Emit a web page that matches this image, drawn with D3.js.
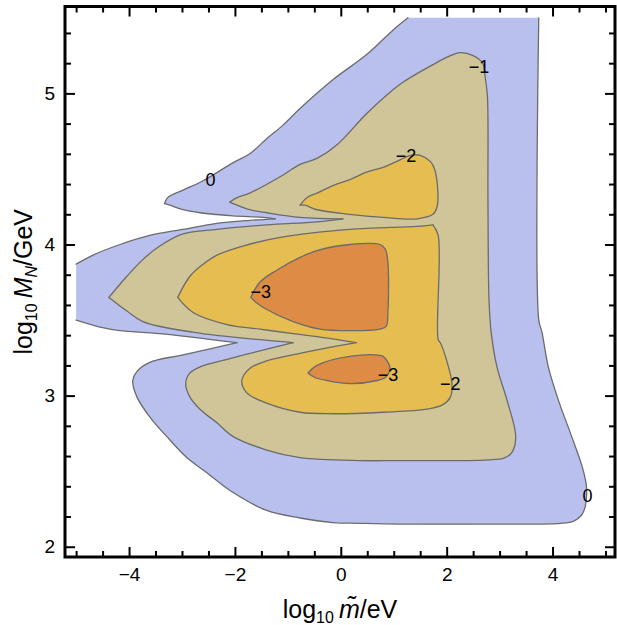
<!DOCTYPE html>
<html>
<head>
<meta charset="utf-8">
<script src="https://cdn.jsdelivr.net/npm/d3@7"></script>
<style>
  html, body { margin: 0; padding: 0; background: #fff; }
  svg { display: block; font-family: "Liberation Sans", Arial, Helvetica, sans-serif; }
</style>
</head>
<body>
<svg id="chart" width="617" height="625"></svg>
<script>
// Filled contours of log10 of the quantity over (log10 m~/eV, log10 M_N/GeV).
// Each band is a closed ring of [x, y] points in data coordinates.

// sampled domain of the field (edges that are not contour lines)
const fieldXMin = -5.0;
const fieldYMax = 5.5;

// plot window
const xView = [-5.21, 5.18];
const yView = [1.932, 5.575];

// tick values
const xTicks = [-4, -2, 0, 2, 4];
const xMinorTicks = d3.range(-10, 11).map(k => k / 2).filter(v => !xTicks.includes(v));
const yTicks = [2, 3, 4, 5];
const yMinorTicks = d3.range(10, 28).map(k => k / 5).filter(v => !yTicks.includes(Math.round(v * 1000) / 1000));

// level 0 band
const band0 = [
  [3.74, 5.50], [3.74, 3.50], [3.80, 3.42], [3.92, 3.19], [4.11, 2.97], [4.34, 2.75],
  [4.56, 2.53], [4.64, 2.40], [4.62, 2.27], [4.55, 2.21], [4.40, 2.17], [4.15, 2.155],
  [3.01, 2.15], [1.12, 2.15], [0.36, 2.155], [-0.15, 2.16], [-0.77, 2.19], [-1.40, 2.24],
  [-2.04, 2.36], [-2.53, 2.49], [-2.91, 2.59], [-3.29, 2.73], [-3.61, 2.86], [-3.85, 2.99],
  [-3.93, 3.10], [-3.85, 3.16], [-3.61, 3.22], [-2.98, 3.27], [-1.96, 3.35], [-3.42, 3.41],
  [-4.17, 3.43], [-4.50, 3.45], [-5.00, 3.50], [-5.00, 3.87],
  [-4.68, 3.93], [-4.17, 4.00], [-3.61, 4.06], [-2.98, 4.10], [-2.34, 4.14], [-1.72, 4.16],
  [-1.24, 4.17], [-1.47, 4.18], [-2.04, 4.19], [-2.66, 4.21], [-2.98, 4.23], [-3.23, 4.26],
  [-3.33, 4.27], [-3.27, 4.31], [-2.98, 4.36], [-2.61, 4.42], [-2.04, 4.54], [-1.72, 4.60],
  [-1.40, 4.70], [-1.09, 4.79], [-0.77, 4.90], [-0.15, 5.09], [0.50, 5.26], [0.99, 5.42],
  [1.27, 5.50]
];

// level -1 band
const band1 = [
  [-2.10, 4.28], [-1.96, 4.31], [-1.72, 4.34], [-1.09, 4.46], [-0.77, 4.53], [-0.45, 4.57],
  [-0.07, 4.66], [0.50, 4.87], [1.12, 5.06], [1.74, 5.19], [2.01, 5.24], [2.25, 5.27],
  [2.50, 5.25], [2.68, 5.20], [2.73, 5.10], [2.77, 4.98], [2.78, 4.30], [2.80, 3.63],
  [2.84, 3.42], [2.95, 3.19], [3.14, 2.97], [3.30, 2.75], [3.28, 2.66], [3.20, 2.61],
  [3.07, 2.585], [2.80, 2.575], [2.39, 2.57], [1.12, 2.57], [0.36, 2.57], [-0.77, 2.59],
  [-1.40, 2.64], [-2.04, 2.73], [-2.34, 2.82], [-2.66, 2.91], [-2.85, 2.99], [-2.93, 3.08],
  [-2.85, 3.15], [-2.66, 3.19], [-2.04, 3.25], [-0.90, 3.35], [-2.80, 3.42], [-3.74, 3.49],
  [-4.04, 3.56], [-4.38, 3.65], [-4.04, 3.79], [-3.74, 3.90], [-3.42, 3.99], [-2.98, 4.07],
  [-2.34, 4.10], [-1.40, 4.13], [-0.45, 4.15], [0.04, 4.17], [-0.77, 4.18], [-1.40, 4.21],
  [-1.72, 4.23], [-1.96, 4.26]
];

// level -2 band, upper island
const band2Upper = [
  [-0.77, 4.26], [-0.64, 4.31], [-0.45, 4.34], [-0.15, 4.39], [0.17, 4.43], [0.50, 4.48],
  [0.80, 4.51], [1.12, 4.56], [1.31, 4.59], [1.50, 4.59], [1.69, 4.55], [1.76, 4.51],
  [1.82, 4.41], [1.82, 4.25], [1.74, 4.20], [1.44, 4.17], [0.80, 4.18], [0.17, 4.20],
  [-0.45, 4.23], [-0.68, 4.26]
];

// level -2 band, main island
const band2Main = [
  [-3.08, 3.65], [-2.85, 3.79], [-2.60, 3.87], [-2.34, 3.93], [-1.85, 3.99], [-1.09, 4.05],
  [0.17, 4.10], [1.44, 4.12], [1.74, 4.13], [1.84, 4.06], [1.84, 3.37], [1.88, 3.35],
  [2.01, 3.22], [2.10, 3.08], [2.07, 2.99], [1.93, 2.94], [1.63, 2.91], [0.80, 2.89],
  [-0.15, 2.88], [-0.77, 2.89], [-1.40, 2.95], [-1.78, 3.02], [-1.87, 3.10], [-1.72, 3.18],
  [-1.40, 3.23], [-0.77, 3.28], [0.29, 3.35], [-0.45, 3.39], [-0.90, 3.41], [-1.53, 3.44],
  [-2.15, 3.47], [-2.79, 3.55]
];

// level -3 band, two islands
const band3Upper = [
  [-1.70, 3.65], [-1.53, 3.75], [-1.21, 3.83], [-0.80, 3.91], [-0.45, 3.96], [0.17, 4.00],
  [0.74, 4.00], [0.84, 3.97], [0.89, 3.88], [0.89, 3.55], [0.86, 3.46], [0.74, 3.44],
  [0.17, 3.43], [-0.39, 3.44], [-0.90, 3.49], [-1.40, 3.57], [-1.61, 3.62]
];
const band3Lower = [
  [-0.62, 3.15], [-0.45, 3.20], [0.17, 3.26], [0.80, 3.26], [0.89, 3.22], [0.93, 3.18],
  [0.84, 3.12], [0.69, 3.10], [0.17, 3.08], [-0.26, 3.10], [-0.49, 3.12]
];

// contour labels
const labelText = ["0", "\u22121", "\u22122", "\u22123", "\u22123", "\u22122", "0"];
const labelX = [-2.46, 2.61, 1.23, -1.51, 0.89, 2.07, 4.66];
const labelY = [4.43, 5.18, 4.59, 3.69, 3.14, 3.08, 2.34];

// ---------------------------------------------------------------------------
const svg = d3.select("#chart");
const frame = { left: 65, right: 615, top: 6.5, bottom: 557 };

const x = d3.scaleLinear().domain(xView).range([frame.left, frame.right]);
const y = d3.scaleLinear().domain(yView).range([frame.bottom, frame.top]);

const bands = [
  { rings: [band0], fill: "#bac0ee" },
  { rings: [band1], fill: "#cfc598" },
  { rings: [band2Upper, band2Main], fill: "#e6bd50" },
  { rings: [band3Upper, band3Lower], fill: "#dd8b45" }
];

const smooth = d3.line().curve(d3.curveCatmullRom.alpha(0.5));
const smoothClosed = d3.line().curve(d3.curveCatmullRomClosed.alpha(0.5));

// Smooth a ring between its corners (sharp turns and field-edge ends);
// returns the fill outline and the stroked contour pieces.
function ringGeometry(ring) {
  const n = ring.length;
  const px = ring.map(d => [x(d[0]), y(d[1])]);
  const edgeSeg = (a, b) =>
    (a[0] === b[0] && a[0] === fieldXMin) || (a[1] === b[1] && a[1] === fieldYMax);
  const corner = ring.map((d, i) => {
    const ip = (i - 1 + n) % n, inx = (i + 1) % n;
    if (edgeSeg(ring[ip], d) || edgeSeg(d, ring[inx])) return true;
    const a = px[ip], b = px[i], c = px[inx];
    const v1 = [b[0] - a[0], b[1] - a[1]], v2 = [c[0] - b[0], c[1] - b[1]];
    const cos = (v1[0] * v2[0] + v1[1] * v2[1]) / (Math.hypot(v1[0], v1[1]) * Math.hypot(v2[0], v2[1]));
    return cos < Math.cos(65 * Math.PI / 180);
  });
  const idx = d3.range(n).filter(i => corner[i]);
  if (!idx.length) {
    const p = smoothClosed(px);
    return { fill: p, strokes: [p] };
  }
  const segs = [];
  for (let k = 0; k < idx.length; k++) {
    const s = idx[k], e = idx[(k + 1) % idx.length];
    const pts = [px[s]];
    let i = s;
    do { i = (i + 1) % n; pts.push(px[i]); } while (i !== e);
    segs.push({ pts, edge: pts.length === 2 && edgeSeg(ring[s], ring[e]) });
  }
  const fill = segs.map((s, k) => {
    const d = smooth(s.pts);
    return k ? d.replace(/^M/, "L") : d;
  }).join("") + "Z";
  const strokes = segs.filter(s => !s.edge).map(s => smooth(s.pts));
  return { fill, strokes };
}

const plot = svg.append("g");
bands.forEach(b => {
  b.rings.forEach(r => {
    const g = ringGeometry(r);
    plot.append("path")
      .attr("d", g.fill)
      .attr("fill", b.fill)
      .attr("stroke", "none");
    g.strokes.forEach(s => {
      plot.append("path")
        .attr("d", s)
        .attr("fill", "none")
        .attr("stroke", "#6b6b6b")
        .attr("stroke-width", 1.3)
        .attr("stroke-linejoin", "round")
        .attr("stroke-linecap", "round");
    });
  });
});

// contour labels
plot.selectAll("text.clabel")
  .data(labelText)
  .join("text")
  .attr("class", "clabel")
  .attr("x", (d, i) => x(labelX[i]))
  .attr("y", (d, i) => y(labelY[i]))
  .attr("dy", "0.36em")
  .attr("text-anchor", "middle")
  .attr("font-size", 18)
  .attr("fill", "#000")
  .text(d => d);

// axes: ticks point inwards on all four sides
function styleAxis(g) {
  g.select(".domain").remove();
  g.selectAll(".tick line").attr("stroke", "#000").attr("stroke-width", 2);
  g.selectAll(".tick text").attr("font-size", 19).attr("fill", "#000")
    .attr("font-family", "Liberation Sans, Arial, sans-serif");
}
const fmt = d3.format("d");

svg.append("g").attr("transform", `translate(0,${frame.bottom})`)
  .call(d3.axisBottom(x).tickValues(xTicks).tickSize(-10).tickPadding(11).tickFormat(fmt)).call(styleAxis);
svg.append("g").attr("transform", `translate(0,${frame.bottom})`)
  .call(d3.axisBottom(x).tickValues(xMinorTicks).tickSize(-6).tickFormat("")).call(styleAxis);
svg.append("g").attr("transform", `translate(0,${frame.top})`)
  .call(d3.axisTop(x).tickValues(xTicks).tickSize(-10).tickFormat("")).call(styleAxis);
svg.append("g").attr("transform", `translate(0,${frame.top})`)
  .call(d3.axisTop(x).tickValues(xMinorTicks).tickSize(-6).tickFormat("")).call(styleAxis);

svg.append("g").attr("transform", `translate(${frame.left},0)`)
  .call(d3.axisLeft(y).tickValues(yTicks).tickSize(-10).tickPadding(10).tickFormat(fmt)).call(styleAxis);
svg.append("g").attr("transform", `translate(${frame.left},0)`)
  .call(d3.axisLeft(y).tickValues(yMinorTicks).tickSize(-6).tickFormat("")).call(styleAxis);
svg.append("g").attr("transform", `translate(${frame.right},0)`)
  .call(d3.axisRight(y).tickValues(yTicks).tickSize(-10).tickFormat("")).call(styleAxis);
svg.append("g").attr("transform", `translate(${frame.right},0)`)
  .call(d3.axisRight(y).tickValues(yMinorTicks).tickSize(-6).tickFormat("")).call(styleAxis);

// frame
svg.append("rect")
  .attr("x", frame.left).attr("y", frame.top)
  .attr("width", frame.right - frame.left).attr("height", frame.bottom - frame.top)
  .attr("fill", "none").attr("stroke", "#000").attr("stroke-width", 3);

// axis titles
const xTitle = svg.append("text")
  .attr("x", (frame.left + frame.right) / 2).attr("y", 618)
  .attr("text-anchor", "middle").attr("font-size", 25).attr("fill", "#000");
xTitle.append("tspan").text("log");
xTitle.append("tspan").attr("font-size", 16).attr("dy", 5).text("10");
xTitle.append("tspan").attr("dy", -5).text("\u2009");
xTitle.append("tspan").attr("font-style", "italic").text("m\u0303");
xTitle.append("tspan").text("/eV");

const yTitle = svg.append("text")
  .attr("transform", `translate(32,${(frame.top + frame.bottom) / 2}) rotate(-90)`)
  .attr("text-anchor", "middle").attr("font-size", 25).attr("fill", "#000");
yTitle.append("tspan").text("log");
yTitle.append("tspan").attr("font-size", 16).attr("dy", 5).text("10");
yTitle.append("tspan").attr("dy", -5).text("\u2009");
yTitle.append("tspan").attr("font-style", "italic").text("M");
yTitle.append("tspan").attr("font-style", "italic").attr("font-size", 16).attr("dy", 5).text("N");
yTitle.append("tspan").attr("dy", -5).text("/GeV");
</script>
</body>
</html>
